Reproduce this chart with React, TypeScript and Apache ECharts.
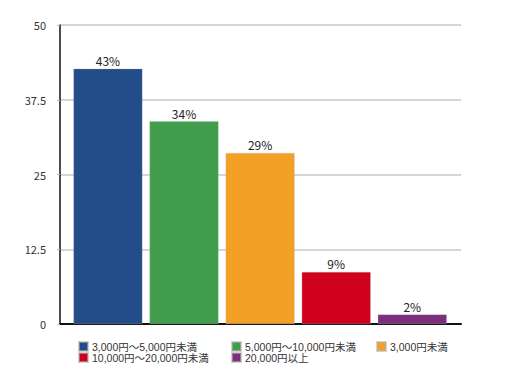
import React, { useEffect, useRef } from "react";
import * as echarts from "echarts";

const categories = [
  "3,000円～5,000円未満",
  "5,000円～10,000円未満",
  "3,000円未満",
  "10,000円～20,000円未満",
  "20,000円以上",
];
const values = [42.7, 33.9, 28.6, 8.7, 1.6];
const valueLabels = ["43%", "34%", "29%", "9%", "2%"];
const colors = ["#224d88", "#409d4b", "#f2a126", "#d0021e", "#7d2f7e"];
const legendPos = [
  { left: 78, top: 341 },
  { left: 231, top: 341 },
  { left: 376, top: 341 },
  { left: 78, top: 352 },
  { left: 231, top: 352 },
];

const FONT = "'Noto Sans CJK JP', 'Noto Sans', sans-serif";
const LEGEND_FONT = "'Liberation Sans', 'Noto Sans CJK JP', sans-serif";

export default function App() {
  const ref = useRef<HTMLDivElement>(null);
  useEffect(() => {
    if (!ref.current) return;
    const chart = echarts.init(ref.current, undefined, { renderer: "svg" });
    chart.setOption({
      animation: false,
      textStyle: { fontFamily: FONT },
      grid: { left: 60, right: 68, top: 25, bottom: 54 },
      xAxis: {
        type: "value",
        min: -0.63,
        max: 4.64,
        axisLine: { show: true, onZero: false, lineStyle: { color: "#111", width: 2 } },
        axisTick: { show: false },
        axisLabel: { show: false },
        splitLine: { show: false },
      },
      yAxis: {
        type: "value",
        min: 0,
        max: 50,
        interval: 12.5,
        axisLine: { show: true, onZero: false, lineStyle: { color: "#111", width: 1.5 } },
        axisTick: { show: true, length: 3, lineStyle: { color: "#bbb" } },
        axisLabel: { color: "#333", fontSize: 11, margin: 14, fontFamily: FONT },
        splitLine: { show: true, lineStyle: { color: "#c8c8c8", width: 1.5 } },
      },
      legend: categories.map((c, i) => ({
        data: [c],
        left: legendPos[i].left,
        top: legendPos[i].top,
        itemWidth: 9,
        itemHeight: 9,
        icon: "rect",
        padding: 0,
        itemGap: 6,
        textStyle: {
          color: "#333",
          fontSize: 10.5,
          lineHeight: 10,
          fontFamily: LEGEND_FONT,
          padding: [0, 0, 0, -1],
        },
      })),
      series: categories.map((c, i) => ({
        name: c,
        type: "bar",
        stack: "all",
        barWidth: 69,
        itemStyle: { color: colors[i], borderColor: "rgba(180,180,180,0.6)", borderWidth: 0.5 },
        label: {
          show: true,
          position: "top",
          distance: 2,
          color: "#222",
          fontSize: 12,
          fontFamily: FONT,
          formatter: () => valueLabels[i],
        },
        data: [[i, values[i]]],
      })),
    });
    return () => chart.dispose();
  }, []);
  return <div ref={ref} style={{ width: 529, height: 378, position: "absolute", left: 0, top: 0 }} />;
}
